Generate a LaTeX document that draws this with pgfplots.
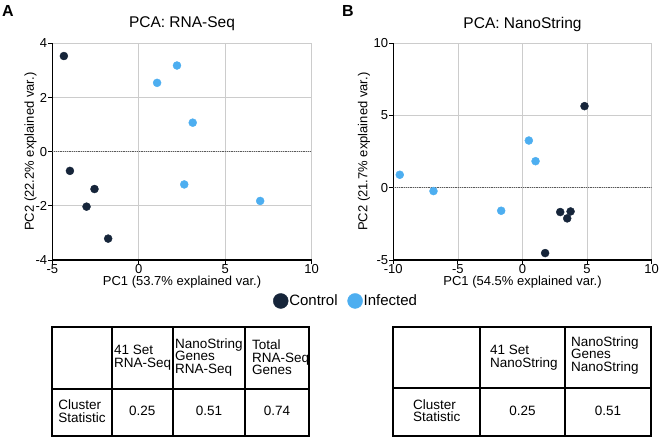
\documentclass[border=0pt]{standalone}
\usepackage{pgfplots}
\pgfplotsset{compat=1.18}
\usepackage{fontspec}
\setmainfont{Liberation Sans}
\definecolor{ctrl}{HTML}{16253A}
\definecolor{inf}{HTML}{4DAEF0}
\definecolor{gridc}{HTML}{CCCCCC}

\pgfplotsset{
  pca/.style={
    scale only axis,
    axis x line*=bottom, axis y line*=left,
    grid=major, grid style={gridc, line width=0.8pt},
    axis line style={-, black, line width=1.2pt},
    tick style={black, line width=1pt},
    tick align=outside, major tick length=4pt,
    /pgf/number format/assume math mode=true,
    tick label style={font=\fontsize{13}{13}\selectfont},
    x tick label style={inner sep=0.5pt},
    y tick label style={inner sep=1pt},
    label style={font=\fontsize{13}{13}\selectfont},
    title style={font=\fontsize{15.5}{15.5}\selectfont, at={(axis description cs:0.5,1.061)}, anchor=center},
    xlabel style={at={(axis description cs:0.5,-0.103)}, anchor=center},
  },
  ctrlpts/.style={only marks, mark=*, mark size=4pt, color=ctrl},
  infpts/.style={only marks, mark=*, mark size=4pt, color=inf},
  zeroline/.style={mark=none, black!65, densely dotted, line width=0.8pt, forget plot},
}

\begin{document}
\begin{tikzpicture}[x=1pt,y=1pt]
\useasboundingbox (0,-438) rectangle (660,0);

% panel A
\begin{axis}[pca,
    at={(52.3pt,-260pt)}, anchor=south west,
    width=259.4pt, height=216.7pt,
    xmin=-5, xmax=10, ymin=-4, ymax=4,
    xtick={-5,0,5,10}, ytick={-4,-2,0,2,4},
    title={PCA: RNA-Seq},
    xlabel={PC1 (53.7\% explained var.)},
    ylabel={PC2 (22.2\% explained var.)},
    ylabel style={at={(axis description cs:-0.084,0.5)}, anchor=center},
    legend style={at={(axis description cs:0.851,-0.189)}, anchor=west,
      draw=none, fill=none, legend columns=2, inner sep=0pt,
      font=\fontsize{15}{15}\selectfont, nodes={inner sep=1pt},
      /tikz/every even column/.append style={column sep=9pt}},
    legend image code/.code={\draw[#1, mark size=7.5pt] plot coordinates {(7.5pt,0pt)};},
]
\addplot[zeroline] coordinates {(-5,0) (10,0)};
\addplot[ctrlpts] coordinates {
  (-4.33,3.53) (-3.98,-0.71) (-2.56,-1.38) (-3.02,-2.03) (-1.77,-3.21)
};
\addlegendentry{Control}
\addplot[infpts] coordinates {
  (1.06,2.54) (2.21,3.18) (3.12,1.07) (2.63,-1.21) (7.02,-1.82)
};
\addlegendentry{Infected}
\end{axis}

% panel B
\begin{axis}[pca,
    at={(393.3pt,-260pt)}, anchor=south west,
    width=258.4pt, height=216.7pt,
    xmin=-10, xmax=10, ymin=-5, ymax=10,
    xtick={-10,-5,0,5,10}, ytick={-5,0,5,10},
    title={PCA: NanoString},
    xlabel={PC1 (54.5\% explained var.)},
    ylabel={PC2 (21.7\% explained var.)},
    ylabel style={at={(axis description cs:-0.1134,0.5)}, anchor=center},
]
\addplot[zeroline] coordinates {(-10,0) (10,0)};
\addplot[ctrlpts] coordinates {
  (4.80,5.65) (2.92,-1.68) (3.72,-1.64) (3.46,-2.12) (1.75,-4.52)
};
\addplot[infpts] coordinates {
  (-9.50,0.90) (-6.89,-0.23) (-1.65,-1.59) (0.49,3.27) (1.01,1.84)
};
\end{axis}

% panel letters
\node[font=\bfseries\fontsize{16}{16}\selectfont, anchor=north west, inner sep=0pt] at (2,-5) {A};
\node[font=\bfseries\fontsize{16}{16}\selectfont, anchor=north west, inner sep=0pt] at (342,-5) {B};

% table A
\begin{scope}[line width=2pt]
\draw (51.7,-326.7) rectangle (309,-435.7);
\draw (51.7,-389) -- (309,-389);
\draw (111.7,-326.7) -- (111.7,-435.7);
\draw (173,-326.7) -- (173,-435.7);
\draw (245,-326.7) -- (245,-435.7);
\end{scope}
\begin{scope}[every node/.style={font=\fontsize{13.5}{12.6}\selectfont, align=left, inner sep=0pt}]
\node[anchor=west] at (114,-357.5) {41 Set\\RNA-Seq};
\node[anchor=west] at (175,-357.5) {NanoString\\Genes\\RNA-Seq};
\node[anchor=west] at (252,-357.5) {Total\\RNA-Seq\\Genes};
\node at (82,-411) {Cluster\\Statistic};
\node at (142.3,-411) {0.25};
\node at (209,-411) {0.51};
\node at (277,-411) {0.74};
\end{scope}

% table B
\begin{scope}[line width=2pt]
\draw (393.3,-326.7) rectangle (650.7,-435.7);
\draw (393.3,-387.7) -- (650.7,-387.7);
\draw (480,-326.7) -- (480,-435.7);
\draw (565,-326.7) -- (565,-435.7);
\end{scope}
\begin{scope}[every node/.style={font=\fontsize{13.5}{12.6}\selectfont, align=left, inner sep=0pt}]
\node[anchor=west] at (490,-357.5) {41 Set\\NanoString};
\node[anchor=west] at (571,-355.5) {NanoString\\Genes\\NanoString};
\node at (436.7,-410.5) {Cluster\\Statistic};
\node at (522.5,-410.5) {0.25};
\node at (608,-410.5) {0.51};
\end{scope}
\end{tikzpicture}
\end{document}
